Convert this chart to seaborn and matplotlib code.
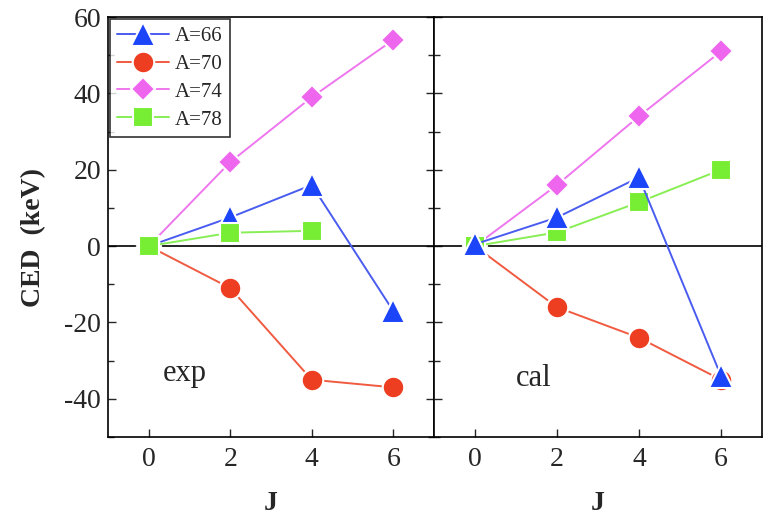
import matplotlib
matplotlib.use("Agg")
import matplotlib.pyplot as plt
import seaborn as sns
import pandas as pd
from matplotlib.ticker import MultipleLocator

sns.set_theme(style="ticks")
plt.rcParams['font.family'] = ['Liberation Serif', 'DejaVu Serif']
plt.rcParams['axes.unicode_minus'] = False

J = [0, 2, 4, 6]
labels = ["A=66", "A=70", "A=74", "A=78"]
exp_66 = [0, 7.5, 16, -17]
exp_70 = [0, -11, -35, -37]
exp_74 = [0, 22, 39, 54]
exp_78 = [0, 3.5, 4]
cal_66 = [0.5, 7.5, 18, -34]
cal_70 = [0, -16, -24, -35]
cal_74 = [0, 16, 34, 51]
cal_78 = [0, 3.6, 11.5, 20]

colors = ["#1c44f8", "#ee3e22", "#ee66ee", "#77ee33"]
line_colors = ["#4a5cf0", "#f05a40", "#ee77ee", "#88ee55"]
markers = ["^", "o", "D", "s"]
msizes = [17, 15.5, 12.5, 15]

def build(series):
    rows = []
    for lab, vals in zip(labels, series):
        for j, v in zip(J, vals):
            rows.append({"J": j, "CED": v, "A": lab})
    return pd.DataFrame(rows)

df_exp = build([exp_66, exp_70, exp_74, exp_78])
df_cal = build([cal_66, cal_70, cal_74, cal_78])

fig = plt.figure(figsize=(7.66, 5.17), dpi=100)
ax1 = fig.add_axes([108/766, 1-437/517, 326/766, 420/517])
ax2 = fig.add_axes([434/766, 1-437/517, 328/766, 420/517], sharey=ax1)

# draw order: exp -> squares on top; cal -> triangles on top
zorders = {ax1: [3, 3.1, 3.2, 3.3], ax2: [3.3, 3, 3.1, 3.2]}

for ax, df in [(ax1, df_exp), (ax2, df_cal)]:
    ax.axhline(0, color="black", lw=1.2, zorder=1)
    for i, lab in enumerate(labels):
        sub = df[df["A"] == lab]
        sns.lineplot(data=sub, x="J", y="CED", ax=ax, color=line_colors[i], lw=1.4,
                     marker=markers[i], markersize=msizes[i], markerfacecolor=colors[i],
                     markeredgecolor="white", markeredgewidth=1.5, label=lab,
                     legend=False, sort=False, zorder=zorders[ax][i])
    ax.set_xlim(-1, 7)
    ax.set_ylim(-50, 60)
    ax.set_xticks([0, 2, 4, 6])
    ax.yaxis.set_major_locator(MultipleLocator(20))
    ax.yaxis.set_minor_locator(MultipleLocator(10))
    ax.tick_params(which="both", direction="in", top=False)
    ax.tick_params(which="major", length=6, width=1, labelsize=20)
    ax.tick_params(axis="x", pad=7)
    ax.tick_params(axis="y", pad=5)
    ax.tick_params(which="minor", length=4, width=1)
    ax.set_xlabel("J", fontsize=20, fontweight="bold")
    ax.xaxis.set_label_coords(0.5, -0.128)
    for s in ax.spines.values():
        s.set_linewidth(1.2)
        s.set_color("black")

ax1.tick_params(which="both", right=True)
ax2.tick_params(which="both", right=False, left=True, labelleft=False)
ax1.set_ylabel("CED  (keV)", fontsize=20, fontweight="bold")
ax1.yaxis.set_label_coords(-0.19, 0.474)
ax2.set_ylabel("")

ax1.text(0.34, -35.3, "exp", fontsize=22, va="baseline")
ax2.text(1.0, -36.6, "cal", fontsize=22, va="baseline")

handles, labs = ax1.get_legend_handles_labels()
leg = ax1.legend(handles, labs, loc="upper left", fontsize=15, frameon=True, fancybox=False,
                 edgecolor="black", handlelength=2.5, borderpad=0.35, labelspacing=0.4,
                 handletextpad=0.25, borderaxespad=0.1, numpoints=1)
leg.get_frame().set_linewidth(1.2)

fig.savefig("out.png", dpi=100)
